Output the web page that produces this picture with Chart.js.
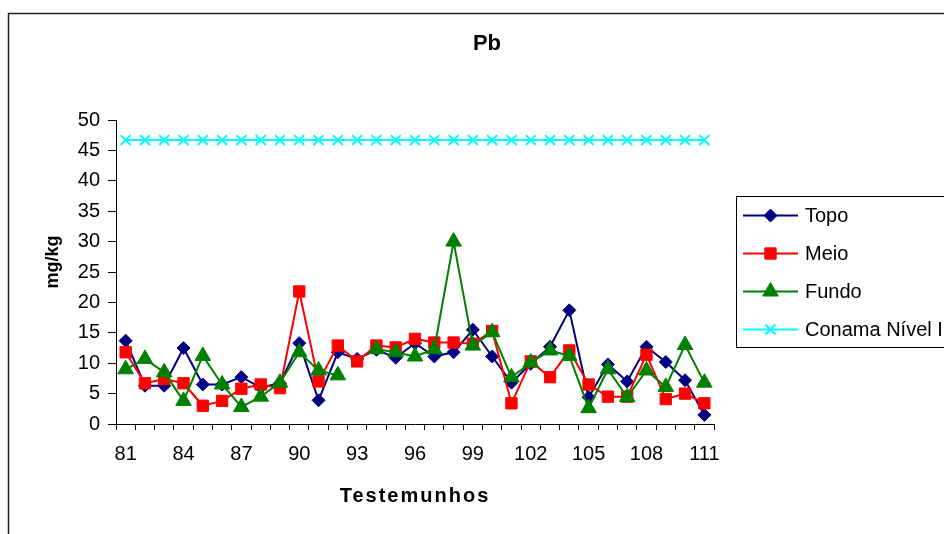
<!DOCTYPE html>
<html>
<head>
<meta charset="utf-8">
<script src="https://cdn.jsdelivr.net/npm/chart.js@4"></script>
<style>
html,body{margin:0;padding:0;background:#fff;overflow:hidden;}
#wrap{position:relative;width:944px;height:534px;overflow:hidden;}
</style>
</head>
<body>
<div id="wrap"><canvas id="c" width="944" height="534"></canvas></div>
<script>
const categories = ['81','82','83','84','85','86','87','88','89','90','91','92','93','94','95','96','97','98','99','100','101','102','103','104','105','106','107','108','109','110','111'];
const shownTicks = ['81','84','87','90','93','96','99','102','105','108','111'];
const topo  = [13.7, 6.3, 6.3, 12.5, 6.5, 6.5, 7.7, 6.0, 6.7, 13.3, 3.9, 11.8, 10.7, 12.2, 10.9, 13.3, 11.1, 11.8, 15.5, 11.1, 6.8, 9.9, 12.7, 18.7, 4.4, 9.8, 7.0, 12.7, 10.2, 7.2, 1.5];
const meio  = [11.8, 6.7, 7.4, 6.7, 3.0, 3.8, 5.8, 6.5, 5.9, 21.8, 7.0, 12.9, 10.3, 12.9, 12.6, 14.0, 13.4, 13.4, 13.2, 15.3, 3.4, 10.3, 7.7, 12.1, 6.5, 4.5, 4.5, 11.4, 4.1, 5.0, 3.4];
const fundo = [9.0, 10.7, 8.5, 3.8, 11.2, 6.5, 2.8, 4.5, 6.8, 11.8, 8.8, 8.0, null, 12.3, 11.8, 11.1, 12.3, 30.0, 12.9, 15.1, 7.7, 10.1, 12.1, 11.2, 2.6, 9.0, 4.4, 8.8, 6.1, 13.0, 6.8];
const conama = [46.7, 46.7, 46.7, 46.7, 46.7, 46.7, 46.7, 46.7, 46.7, 46.7, 46.7, 46.7, 46.7, 46.7, 46.7, 46.7, 46.7, 46.7, 46.7, 46.7, 46.7, 46.7, 46.7, 46.7, 46.7, 46.7, 46.7, 46.7, 46.7, 46.7, 46.7];
const seriesNames = ['Topo', 'Meio', 'Fundo', 'Conama Nível I'];
const chartTitle = 'Pb';
const xTitle = 'Testemunhos';
const yTitle = 'mg/kg';

const FONT = '"Liberation Sans", Arial, sans-serif';

const decorPlugin = {
  id: 'decor',
  afterDraw(chart) {
    const ctx = chart.ctx;
    ctx.save();
    // outer frame (left and top edges; the rest lies outside the picture)
    ctx.strokeStyle = '#222';
    ctx.lineWidth = 1.5;
    ctx.beginPath();
    ctx.moveTo(8.5, 560);
    ctx.lineTo(8.5, 13.5);
    ctx.lineTo(960, 13.5);
    ctx.stroke();
    // title
    ctx.fillStyle = '#000';
    ctx.textAlign = 'center';
    ctx.textBaseline = 'middle';
    ctx.font = 'bold 22px ' + FONT;
    ctx.fillText(chartTitle, 487, 44);
    // x title
    ctx.font = 'bold 20px ' + FONT;
    if ('letterSpacing' in ctx) ctx.letterSpacing = '2px';
    ctx.fillText(xTitle, 415, 496);
    if ('letterSpacing' in ctx) ctx.letterSpacing = '0px';
    // y title
    ctx.save();
    ctx.translate(53, 262);
    ctx.rotate(-Math.PI / 2);
    ctx.font = 'bold 18px ' + FONT;
    ctx.fillText(yTitle, 0, 0);
    ctx.restore();
    // legend box (right side is cut off by the picture edge)
    ctx.strokeStyle = '#000';
    ctx.lineWidth = 1;
    ctx.beginPath();
    ctx.moveTo(960, 196.5);
    ctx.lineTo(736.5, 196.5);
    ctx.lineTo(736.5, 347.5);
    ctx.lineTo(960, 347.5);
    ctx.stroke();
    const ys = [215.5, 253.5, 291.5, 329.5];
    chart.data.datasets.forEach((ds, i) => {
      const y = ys[i];
      ctx.strokeStyle = ds.borderColor;
      ctx.lineWidth = 2;
      ctx.beginPath();
      ctx.moveTo(743, y);
      ctx.lineTo(798, y);
      ctx.stroke();
      ctx.fillStyle = ds.pointBackgroundColor;
      ctx.strokeStyle = ds.pointBorderColor;
      ctx.lineWidth = ds.pointBorderWidth;
      Chart.helpers.drawPoint(ctx, {
        pointStyle: ds.pointStyle,
        radius: ds.pointRadius,
        rotation: 0,
        borderWidth: ds.pointBorderWidth
      }, 770.5, y);
      ctx.fillStyle = '#000';
      ctx.textAlign = 'left';
      ctx.textBaseline = 'middle';
      ctx.font = '20px ' + FONT;
      ctx.fillText(ds.label, 805, y + 1);
    });
    ctx.restore();
  }
};

const mk = (label, data, color, style, radius, order) => ({
  label, data,
  borderColor: color,
  backgroundColor: color,
  pointBackgroundColor: color,
  pointBorderColor: color,
  pointStyle: style,
  pointRadius: radius,
  pointBorderWidth: 1,
  borderWidth: 2,
  tension: 0,
  spanGaps: false,
  order
});

const datasets = [
  mk(seriesNames[0], topo, '#000080', 'rectRot', 6.5, 3),
  mk(seriesNames[1], meio, '#FF0000', 'rect', 8, 2),
  mk(seriesNames[2], fundo, '#008000', 'triangle', 9, 1),
  mk(seriesNames[3], conama, '#00FFFF', 'crossRot', 7, 0)
];
datasets[3].pointBorderWidth = 2;

new Chart(document.getElementById('c'), {
  type: 'line',
  data: { labels: categories, datasets },
  plugins: [decorPlugin],
  options: {
    responsive: false,
    devicePixelRatio: 1,
    animation: false,
    events: [],
    layout: { padding: { top: 120, right: 230, bottom: 0, left: 0 } },
    plugins: { legend: { display: false }, title: { display: false }, tooltip: { enabled: false } },
    scales: {
      x: {
        type: 'category',
        offset: true,
        afterFit(scale) { scale.height = 110; },
        grid: { display: true, drawOnChartArea: false, drawTicks: true, tickLength: 6, color: '#000', lineWidth: 1, offset: true },
        border: { display: true, color: '#000', width: 1 },
        ticks: {
          autoSkip: false, maxRotation: 0, minRotation: 0, padding: 12,
          color: '#000', font: { family: FONT, size: 20 },
          callback(val, idx) { const l = categories[idx]; return shownTicks.includes(l) ? l : ''; }
        }
      },
      y: {
        min: 0, max: 50,
        afterFit(scale) { scale.width = 116; },
        grid: { display: true, drawOnChartArea: false, drawTicks: true, tickLength: 8, color: '#000', lineWidth: 1 },
        border: { display: true, color: '#000', width: 1 },
        ticks: { stepSize: 5, padding: 8, color: '#000', font: { family: FONT, size: 20 } }
      }
    }
  }
});
</script>
</body>
</html>
